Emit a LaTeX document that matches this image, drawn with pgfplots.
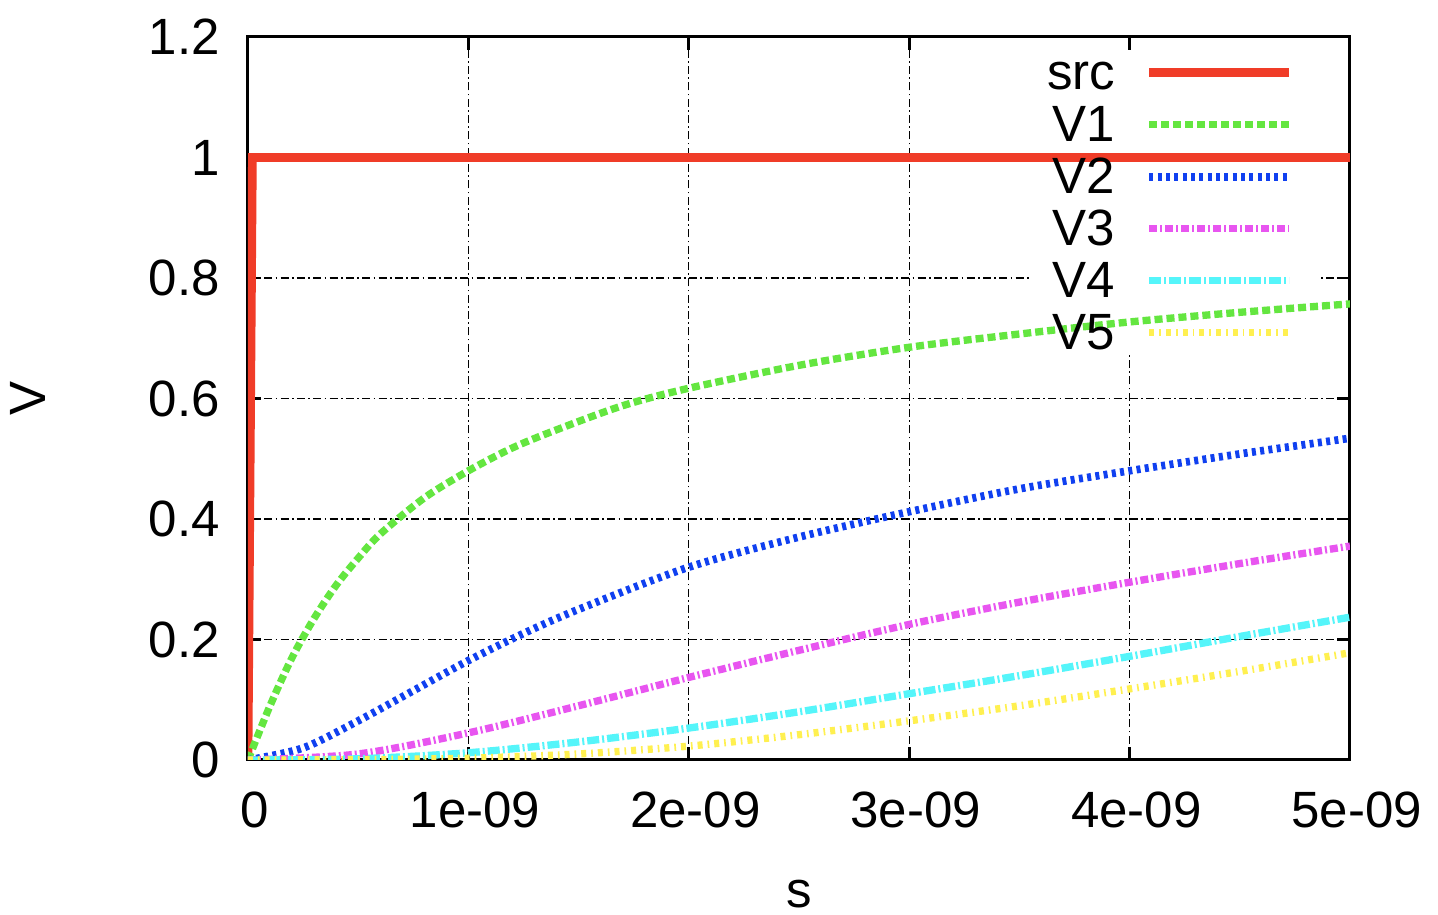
\documentclass[border=0pt]{standalone}
\usepackage{fontspec}
\setmainfont{Liberation Sans}
\usepackage{pgfplots}
\pgfplotsset{compat=1.18}
\usetikzlibrary{calc}
\definecolor{cred}{RGB}{240,60,40}
\definecolor{cgreen}{RGB}{100,230,64}
\definecolor{cblue}{RGB}{16,64,240}
\definecolor{cmag}{RGB}{232,85,240}
\definecolor{ccyan}{RGB}{85,245,250}
\definecolor{cyel}{RGB}{255,240,80}
\begin{document}
\begin{tikzpicture}
\begin{axis}[
  name=ax,
  scale only axis,
  width=330.6pt, height=216.9pt,
  xmin=0, xmax=5, ymin=0, ymax=1.2,
  xtick={0,1,2,3,4,5},
  xticklabels={0,1e-09,2e-09,3e-09,4e-09,5e-09},
  ytick={0,0.2,0.4,0.6,0.8,1,1.2},
  yticklabels={0,0.2,0.4,0.6,0.8,1,1.2},
  /pgf/number format/assume math mode=true,
  every tick label/.append style={font=\fontsize{15.3}{17}\selectfont},
  xticklabel style={yshift=-6pt, xshift=2pt},
  yticklabel style={xshift=-5pt},
  tick align=inside,
  major tick length=4pt,
  every tick/.style={black, line width=0.8pt},
  axis line style={black, line width=0.9pt},
  grid=major,
  major grid style={black, line width=0.4pt, dash pattern=on 2.4pt off 1pt on 0.5pt off 1pt},
  xlabel={s}, ylabel={V},
  label style={font=\fontsize{15.3}{17}\selectfont},
  xlabel style={at={(axis description cs:0.5,-0.185)}, anchor=center},
  ylabel style={at={(axis description cs:-0.2,0.5)}, anchor=center},
  legend plot pos=right,
  legend cell align=right,
  legend image code/.code={\draw[#1] (0pt,0pt) -- (42pt,0pt);},
  legend style={at={(axis description cs:0.9495,0.979)}, anchor=north east,
    draw=none, fill=none, inner sep=0pt,
    font=\fontsize{15.3}{17}\selectfont,
    nodes={inner sep=0pt, text height=11pt, text depth=1pt},
    row sep=3.6pt, column sep=9pt},
]
\fill[white] (axis cs:3.548,0.672) rectangle (axis cs:4.864,1.178);
\addplot[cred, line width=2.6pt, line join=miter] coordinates {(0,0) (0.02,1) (5,1)};
\addlegendentry{src}
\addplot[cgreen, line width=2.2pt, dash pattern=on 2.4pt off 1.2pt, smooth] coordinates {
(0,0) (0.1,0.09) (0.2,0.17) (0.3,0.235) (0.4,0.29) (0.5,0.335) (0.6,0.375) (0.8,0.435) (1.0,0.48) (1.2,0.518) (1.4,0.548) (1.7,0.588) (2.0,0.617) (2.5,0.655) (3.0,0.685) (3.5,0.707) (4.0,0.727) (4.5,0.743) (5.0,0.757)};
\addlegendentry{V1}
\addplot[cblue, line width=2.3pt, dash pattern=on 1.2pt off 1.3pt, smooth] coordinates {
(0,0) (0.25,0.02) (0.5,0.065) (0.75,0.115) (1.0,0.165) (1.25,0.21) (1.5,0.25) (2,0.32) (2.5,0.37) (3,0.412) (3.5,0.45) (4,0.48) (4.5,0.508) (5,0.534)};
\addlegendentry{V2}
\addplot[cmag, line width=2.2pt, dash pattern=on 2.4pt off 0.9pt on 0.6pt off 0.9pt, smooth] coordinates {
(0,0) (0.5,0.01) (1,0.045) (1.5,0.09) (2,0.137) (2.5,0.182) (3,0.225) (3.5,0.262) (4,0.295) (4.5,0.326) (5,0.355)};
\addlegendentry{V3}
\addplot[ccyan, line width=2.2pt, dash pattern=on 3.6pt off 0.9pt on 0.6pt off 0.9pt, smooth] coordinates {
(0,0) (0.5,0.002) (1,0.012) (1.5,0.03) (2,0.053) (2.5,0.08) (3,0.11) (3.5,0.14) (4,0.172) (4.5,0.205) (5,0.237)};
\addlegendentry{V4}
\addplot[cyel, line width=2.2pt, dash pattern=on 1.5pt off 1.5pt on 0.5pt off 1.5pt, smooth] coordinates {
(0,0) (0.5,0.0005) (1,0.003) (1.5,0.01) (2,0.023) (2.5,0.042) (3,0.065) (3.5,0.09) (4,0.118) (4.5,0.147) (5,0.178)};
\addlegendentry{V5}
\end{axis}
\pgfresetboundingbox
\path[use as bounding box] ($(ax.south west)+(-74.4pt,-46.5pt)$) rectangle ($(ax.north east)+(26.4pt,11.1pt)$);
\end{tikzpicture}
\end{document}
